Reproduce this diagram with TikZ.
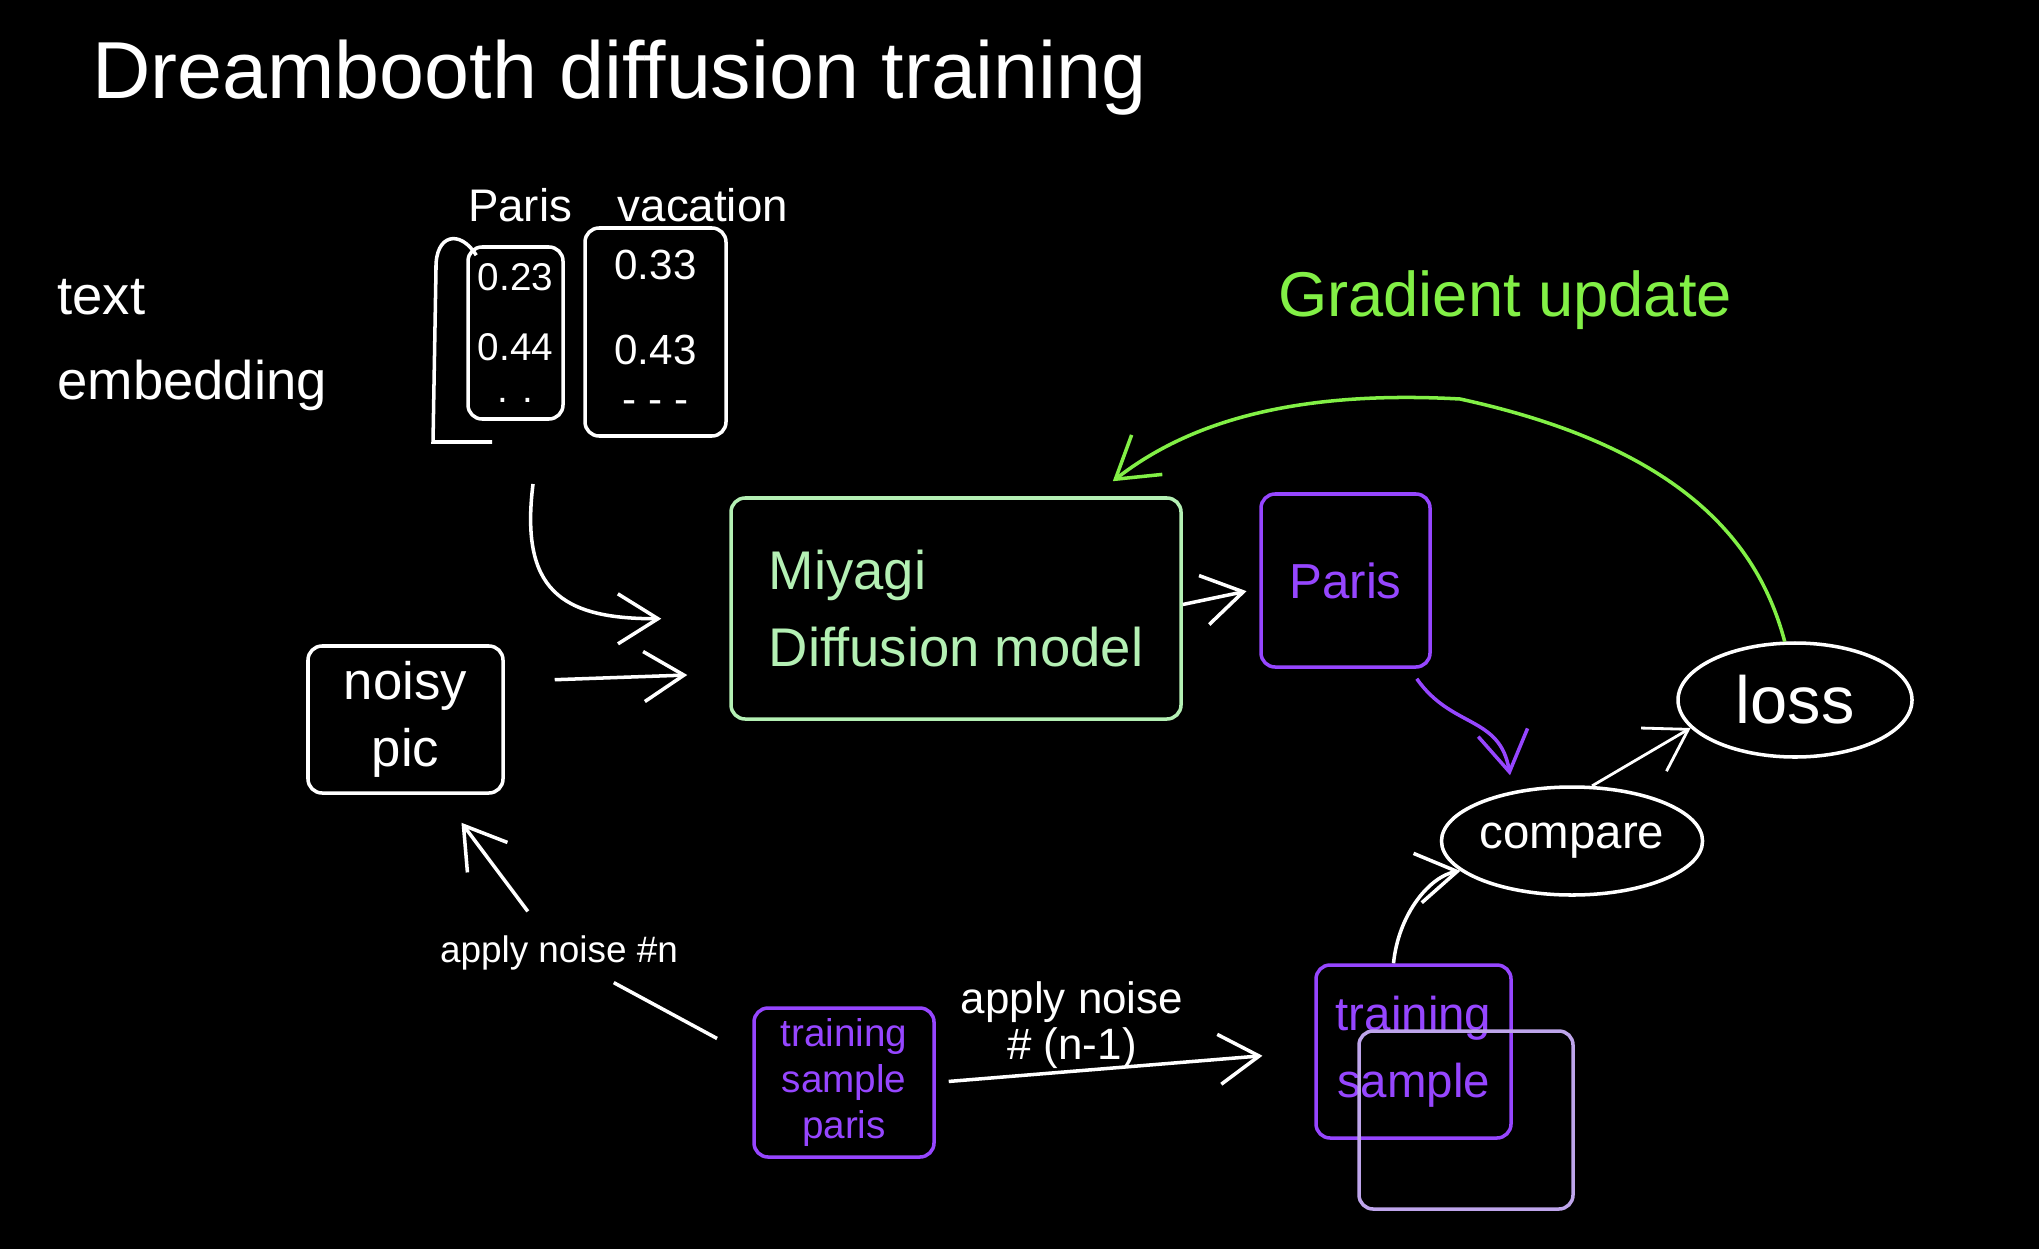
\documentclass[tikz,border=0pt]{standalone}
\usepackage{fontspec}
\setmainfont{Liberation Sans}
\usepackage{tikz}
\usetikzlibrary{arrows.meta,positioning,shapes.geometric}
\definecolor{MiyagiGreen}{RGB}{180,240,180}
\definecolor{SamplePurple}{RGB}{150,70,255}
\definecolor{Lavender}{RGB}{190,165,235}
\definecolor{GradGreen}{RGB}{130,240,70}

\begin{document}
\begin{tikzpicture}[
  ink/.style={white,line width=1pt},
  box/.style={draw=white,line width=1pt,rounded corners=4pt,inner sep=0pt,
              align=center,text=white},
  oval/.style={ellipse,draw=white,line width=1pt,inner sep=0pt,text=white},
  lbl/.style={text=white,align=center},
  arr/.style={-{Straight Barb[length=4mm,width=5mm]},line width=1pt,white},
]
\fill[black] (0,0) rectangle (20.39,12.49);
\useasboundingbox (0,0) rectangle (20.39,12.49);

% title and left labels
\node[lbl,anchor=west,font=\fontsize{23}{28}\selectfont] (title) at (0.8,11.71)
  {Dreambooth diffusion training};
\node[lbl,anchor=west,align=left,font=\fontsize{15.5}{24}\selectfont] (embtxt) at (0.45,9.04)
  {text\\embedding};

% text embedding vectors
\node[lbl,font=\fontsize{13}{16}\selectfont] (prompt) at (6.28,10.44) {Paris\quad vacation};
\node[box,minimum width=0.95cm,minimum height=1.72cm,font=\fontsize{11}{14}\selectfont] (pe) at (5.155,9.16)
  {0.23\\[6pt]0.44\\[-2pt]. .};
\node[box,minimum width=1.41cm,minimum height=2.08cm,font=\fontsize{12}{15}\selectfont] (ve) at (6.555,9.17)
  {0.33\\[9pt]0.43\\[-1pt]- - -};
\draw[ink] ([xshift=0.1cm,yshift=-0.1cm]pe.north west) .. controls (4.6,10.2) and (4.35,10.15) .. (4.36,9.8)
  -- (4.33,8.07) -- (4.92,8.07);
\coordinate (embout) at (5.33,7.65);

% model and image boxes
\node[box,draw=MiyagiGreen,text=MiyagiGreen,align=left,minimum width=4.5cm,minimum height=2.21cm,
      font=\fontsize{15.5}{22}\selectfont] (model) at (9.56,6.405)
  {Miyagi\\Diffusion model};
\node[box,minimum width=1.95cm,minimum height=1.47cm,font=\fontsize{15}{19}\selectfont] (noisy) at (4.055,5.295)
  {noisy\\pic};
\node[box,draw=SamplePurple,text=SamplePurple,minimum width=1.69cm,minimum height=1.73cm,
      font=\fontsize{14}{18}\selectfont] (pout) at (13.455,6.685) {Paris};

% compare and loss
\node[oval,minimum width=2.38cm,minimum height=1.08cm,font=\fontsize{13.5}{17}\selectfont] (cmp) at (15.72,4.08) {compare};
\node[oval,minimum width=2.34cm,minimum height=1.14cm,font=\fontsize{19}{23}\selectfont] (loss) at (17.95,5.49) {loss};
\node[lbl,text=GradGreen,font=\fontsize{18}{22}\selectfont] (grad) at (15.05,9.49) {Gradient update};

% training samples
\node[box,draw=SamplePurple,text=SamplePurple,minimum width=1.8cm,minimum height=1.49cm,
      font=\fontsize{11}{13}\selectfont] (tsp) at (8.44,1.665)
  {training\\sample\\paris};
\node[box,draw=SamplePurple,text=SamplePurple,minimum width=1.95cm,minimum height=1.73cm,
      font=\fontsize{13.5}{19}\selectfont] (ts) at (14.135,1.975)
  {training\\sample};
\node[box,draw=Lavender,minimum width=2.14cm,minimum height=1.78cm] (tsb) at (14.66,1.29) {};
\node[lbl,font=\fontsize{10.5}{13}\selectfont] (noisen) at (5.59,2.96) {apply noise \#n};

% connectors
\draw[arr] (embout) .. controls (5.2,6.6) and (5.6,6.3) .. ([yshift=-0.1cm]model.west)
  [shorten >=0.68cm];
\draw[arr,shorten <=0.5cm,shorten >=0.42cm] ([yshift=0.38cm]noisy.east) -- ([yshift=-0.65cm]model.west);
\draw[arr,shorten >=0.13cm] ([yshift=0.04cm]model.east) -- ([yshift=-0.08cm]pout.west);
\draw[arr,SamplePurple] ([xshift=-0.15cm,yshift=-0.1cm]pout.south east) .. controls +(0.35,-0.5) and +(-0.1,0.6) ..
  ([xshift=-0.62cm,yshift=0.1cm]cmp.north);
\draw[arr,line width=0.8pt] (cmp.70) -- (loss.195);
\draw[arr,GradGreen] (loss.100) .. controls (17.6,7.0) and (16.9,8.0) .. (14.6,8.5)
  .. controls (12.8,8.6) and (11.8,8.2) .. ([xshift=-0.7cm,yshift=0.15cm]model.north east);
\draw[arr,shorten <=0.13cm,shorten >=0.52cm] (tsp.east) -- (ts.west)
  node[pos=0.36,above=-3pt,lbl,font=\fontsize{12.5}{13}\selectfont] (noisen1) {apply noise\\\# (n-1)};
\draw[arr] ([xshift=-0.2cm]ts.north) .. controls +(0.05,0.5) and +(-0.3,-0.05) .. (cmp.195);
\draw[ink,shorten <=0.4cm] ([yshift=0.25cm]tsp.west) -- (noisen);
\draw[arr,shorten <=0.15cm,shorten >=0.35cm] (noisen) -- ([xshift=0.35cm]noisy.south);
\end{tikzpicture}
\end{document}
